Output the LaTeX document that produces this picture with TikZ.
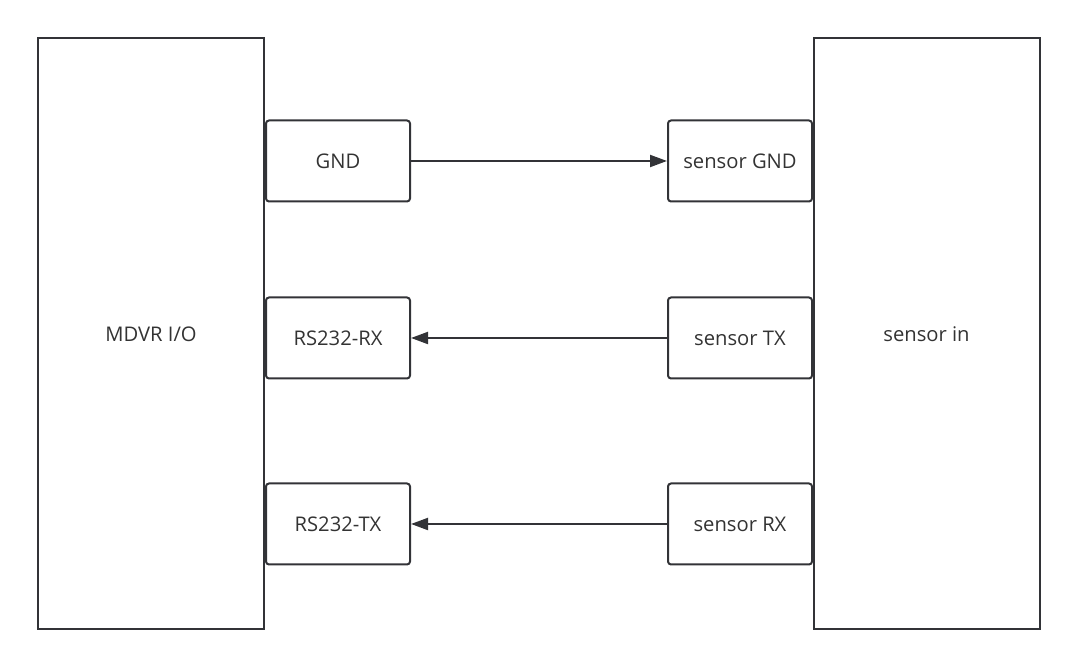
\documentclass[tikz,border=0pt]{standalone}
\usepackage{fontspec}
\setmainfont{Open Sans}
\usepackage{tikz}
\usepackage{xcolor}
\usetikzlibrary{arrows.meta}
\definecolor{linegray}{HTML}{323337}
\definecolor{textgray}{HTML}{333333}

\begin{document}
\begin{tikzpicture}[x=1pt, y=1pt,
    bigbox/.style={draw=linegray, line width=2pt, minimum width=226pt, minimum height=591pt,
      inner sep=0pt, text=textgray, font=\fontsize{20.2}{24}\selectfont},
    pinbox/.style={draw=linegray, line width=2pt, rounded corners=3pt, minimum width=144pt,
      minimum height=81pt, inner sep=0pt, text=textgray, font=\fontsize{20.2}{24}\selectfont},
    wire/.style={draw=linegray, line width=2pt, -{Triangle[length=17pt, width=12pt]}}]
  % Fix the page size
  \useasboundingbox (0, 0) rectangle (1077, 666);

  % Draw the two devices
  \node[bigbox] (mdvr) at (151, 332) {MDVR I/O};
  \node[bigbox] (sensorin) at (926.5, 332) {sensor in};

  % MDVR side pins
  \node[pinbox] (gnd) at (338, 505) {GND};
  \node[pinbox] (rsrx) at (338, 328) {RS232-RX};
  \node[pinbox] (rstx) at (338, 142) {RS232-TX};

  % Sensor side pins
  \node[pinbox] (sgnd) at (740, 505) {sensor GND};
  \node[pinbox] (stx) at (740, 328) {sensor TX};
  \node[pinbox] (srx) at (740, 142) {sensor RX};

  % Wiring between the pins
  \draw[wire] (gnd) -- (sgnd);
  \draw[wire] (stx) -- (rsrx);
  \draw[wire] (srx) -- (rstx);
\end{tikzpicture}
\end{document}
